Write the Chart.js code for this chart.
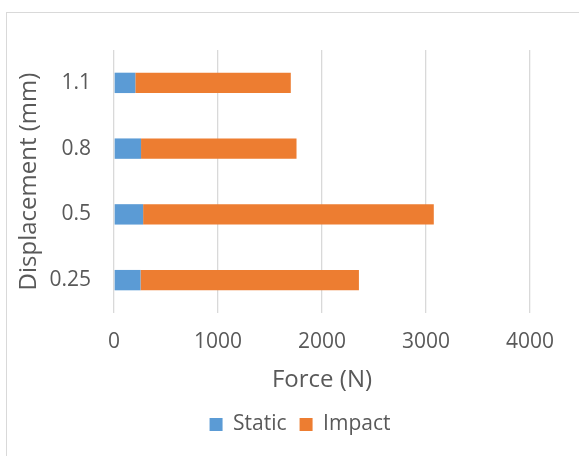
<!DOCTYPE html>
<html>
<head>
<meta charset="utf-8">
<script src="https://cdn.jsdelivr.net/npm/chart.js@4"></script>
<style>
  body { margin: 0; background: #fff; overflow: hidden; }
  #wrap { position: relative; width: 579px; height: 456px; }
  #frame { position: absolute; left: 6px; top: 12px; width: 620px; height: 500px;
           border: 1px solid #d9d9d9; }
  canvas { position: absolute; left: 0; top: 0; }
</style>
</head>
<body>
<div id="wrap">
  <div id="frame"></div>
  <canvas id="chart" width="579" height="456"></canvas>
</div>
<script>
// displacement categories, bottom to top like the original sheet
const displacements = ['0.25', '0.5', '0.8', '1.1'];
const staticForce = [255, 280, 260, 205];
const impactForce = [2100, 2795, 1495, 1495];
const forceTicks = [0, 1000, 2000, 3000, 4000];

const textColor = '#595959';
const fontName = "'Open Sans', sans-serif";

document.addEventListener("DOMContentLoaded", function() {
    const ctx = document.getElementById('chart').getContext('2d');
    new Chart(ctx, {
        type: 'bar',
        data: {
            labels: displacements,
            datasets: [{
                label: 'Static',
                data: staticForce,
                backgroundColor: '#5B9BD5',
                categoryPercentage: 0.62,
                barPercentage: 0.5
            }, {
                label: 'Impact',
                data: impactForce,
                backgroundColor: '#ED7D31',
                categoryPercentage: 0.62,
                barPercentage: 0.5
            }]
        },
        options: {
            indexAxis: 'y',
            responsive: false,
            animation: false,
            layout: { padding: { top: 50, left: 21, right: 0, bottom: 11 } },
            plugins: {
                legend: {
                    position: 'bottom',
                    labels: {
                        boxWidth: 13,
                        boxHeight: 13,
                        padding: 13,
                        color: textColor,
                        font: { family: fontName, size: 21 }
                    }
                },
                tooltip: { enabled: false }
            },
            scales: {
                x: {
                    stacked: true,
                    min: forceTicks[0],
                    max: forceTicks[forceTicks.length - 1],
                    afterBuildTicks: function(scale) {
                        scale.ticks = forceTicks.map(function(v) { return { value: v }; });
                    },
                    afterFit: function(scale) {
                        scale.height = 88;
                        scale.paddingRight = 49;
                    },
                    grid: { color: '#d9d9d9', lineWidth: 1.3, drawTicks: false },
                    border: { display: false },
                    ticks: {
                        padding: 16,
                        color: textColor,
                        font: { family: fontName, size: 21 },
                        callback: function(v) { return String(v); }
                    },
                    title: {
                        display: true,
                        text: 'Force (N)',
                        color: textColor,
                        padding: { top: 0, bottom: 6 },
                        font: { family: fontName, size: 24 }
                    }
                },
                y: {
                    stacked: true,
                    reverse: true,
                    afterFit: function(scale) {
                        scale.width = 93;
                    },
                    grid: { display: false, drawTicks: false },
                    border: { display: false },
                    ticks: {
                        padding: 23,
                        color: textColor,
                        font: { family: fontName, size: 21 }
                    },
                    title: {
                        display: true,
                        text: 'Displacement (mm)',
                        color: textColor,
                        padding: { top: -6, bottom: 0 },
                        font: { family: fontName, size: 24 }
                    }
                }
            }
        }
    });
});
</script>
</body>
</html>
